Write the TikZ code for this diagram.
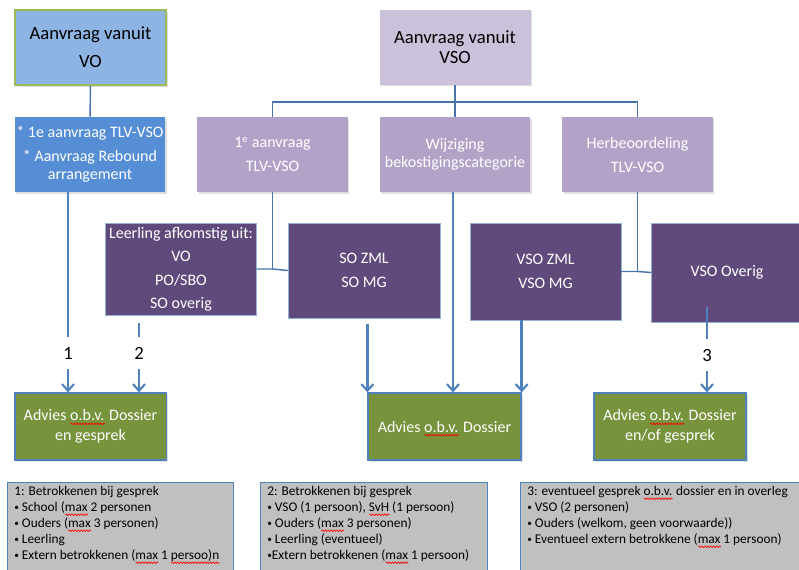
\documentclass[tikz,border=0pt]{standalone}
\usepackage{fontspec}
\setmainfont{Carlito}
\usetikzlibrary{arrows.meta}
\usetikzlibrary{shadows}
\usetikzlibrary{decorations.pathmorphing}
\definecolor{vofill}{HTML}{8EB4E3}
\definecolor{voline}{HTML}{9BBB59}
\definecolor{vsofill}{HTML}{CCC1DA}
\definecolor{blauw}{HTML}{558ED5}
\definecolor{lila}{HTML}{B3A2C7}
\definecolor{paars}{HTML}{604A7B}
\definecolor{groen}{HTML}{77933C}
\definecolor{lijn}{HTML}{4F81BD}
\definecolor{grijs}{HTML}{C0C0C0}
\newdimen\spelw
\newcommand\spel[1]{\settowidth\spelw{#1}\rlap{\smash{\tikz[baseline=0pt, x=1pt, y=1pt]
  \draw[red, line width=0.5pt, decorate, decoration={snake, amplitude=0.6pt, segment length=2.2pt}] (0,-2.4) -- (\spelw,-2.4);}}#1}
\newcommand\bul{\raisebox{0.6pt}{\scriptsize •}\ }
\tikzset{
    boxtop/.style = {rectangle, inner sep=0pt, align=center, minimum width=113.25pt, minimum height=56.25pt, text=black,
                     drop shadow={opacity=0.25, shadow xshift=1.2pt, shadow yshift=-1.2pt}},
    boxmid/.style = {rectangle, inner sep=0pt, align=center, minimum width=113pt, minimum height=56.25pt, fill=lila, text=white,
                     drop shadow={opacity=0.25, shadow xshift=1.2pt, shadow yshift=-1.2pt}},
    boxdark/.style = {rectangle, inner sep=0pt, align=center, minimum width=113pt, fill=paars, text=white, draw=lijn!60, line width=0.4pt,
                     font=\fontsize{12}{18}\selectfont},
    boxgreen/.style = {rectangle, inner sep=0pt, align=center, minimum width=113.5pt, minimum height=50.25pt, fill=groen, text=white,
                     draw=lijn, line width=1pt, font=\fontsize{12}{15}\selectfont,
                     drop shadow={opacity=0.25, shadow xshift=1.2pt, shadow yshift=-1.2pt}},
    notebox/.style = {rectangle, inner sep=0pt, fill=grijs, draw=lijn, line width=0.8pt, minimum height=75pt},
    notetext/.style = {inner sep=0pt, align=left, anchor=north west, text=black, font=\fontsize{10}{12}\selectfont},
    nummer/.style = {inner sep=0pt, minimum height=24pt, font=\fontsize{14}{14}\selectfont, text=black},
    verbind/.style = {-, line width=1.1pt, lijn!90!black},
    pijl/.style = {-{Straight Barb[length=5pt, width=9pt, line width=1.6pt]}, line width=2.2pt, lijn},
    streep/.style = {-, line width=2.2pt, lijn}
}
\begin{document}
\begin{tikzpicture}[x=0.75pt, y=-0.75pt]
\useasboundingbox (0,0) rectangle (799,569);
% bovenste rij
\node[boxtop, fill=vofill, draw=voline, line width=0.8pt, font=\fontsize{14}{21}\selectfont] at (90.5, 47.5) (vo) {Aanvraag vanuit\\VO};
\node[boxtop, fill=vsofill, font=\fontsize{14}{15}\selectfont] at (455, 47) (vso) {Aanvraag vanuit\\VSO};
% tweede rij
\node[boxmid, fill=blauw, font=\fontsize{12}{18}\selectfont] at (90, 154.5) (rebound) {* 1e aanvraag TLV-VSO\\* Aanvraag Rebound\\[-4.5pt]arrangement};
\node[boxmid, font=\fontsize{12}{18}\selectfont] at (272.5, 154.5) (eerste) {1\textsuperscript{e} aanvraag\\TLV-VSO};
\node[boxmid, font=\fontsize{12}{13.5}\selectfont] at (455, 154.5) (wijziging) {Wijziging\\bekostigingscategorie};
\node[boxmid, font=\fontsize{12}{18}\selectfont] at (637.5, 154.5) (herbeoordeling) {Herbeoordeling\\TLV-VSO};
% derde rij
\node[boxdark, minimum height=69pt, font=\fontsize{12}{17.6}\selectfont] at (181, 269) (leerling) {Leerling afkomstig uit:\\VO\\PO/SBO\\SO overig};
\node[boxdark, minimum width=114pt, minimum height=71.25pt] at (364, 270.5) (sozml) {SO ZML\\SO MG};
\node[boxdark, minimum height=72.75pt] at (545.5, 271.5) (vsozml) {VSO ZML\\VSO MG};
\node[boxdark, minimum height=74.25pt] at (727, 272.5) (vsooverig) {VSO Overig};
% advies
\node[boxgreen] at (90.5, 426.5) (advies1) {Advies \spel{o.b.v.} Dossier\\en gesprek};
\node[boxgreen, minimum width=114.75pt] at (444.5, 426.5) (advies2) {Advies \spel{o.b.v.} Dossier};
\node[boxgreen, minimum width=114pt] at (670, 426.5) (advies3) {Advies \spel{o.b.v.} Dossier\\en/of gesprek};
% nummers
\node[nummer] at (68, 353) (een) {1};
\node[nummer] at (139, 353) (twee) {2};
\node[nummer] at (707, 355) (drie) {3};
% toelichting
\node[notebox, minimum width=169.5pt, anchor=north west] at (7, 482) (noot1) {};
\node[notebox, minimum width=170.25pt, anchor=north west] at (260, 482) (noot2) {};
\node[notebox, minimum width=220pt, anchor=north west] at (520, 482) (noot3) {};
\node[notetext] at (14, 486) (tekst1) {1: Betrokkenen bij gesprek\\
  \bul School (\spel{max} 2 personen\\
  \bul Ouders (\spel{max} 3 personen)\\
  \bul Leerling\\
  \bul Extern betrokkenen (\spel{max} 1 \spel{persoo)n}};
\node[notetext] at (267, 486) (tekst2) {2: Betrokkenen bij gesprek\\
  \bul VSO (1 persoon), \spel{SvH} (1 persoon)\\
  \bul Ouders (\spel{max} 3 personen)\\
  \bul Leerling (eventueel)\\
  \raisebox{0.6pt}{\scriptsize •}Extern betrokkenen (\spel{max} 1 persoon)};
\node[notetext] at (527, 486) (tekst3) {3: eventueel gesprek \spel{o.b.v.} dossier en in overleg\\
  \bul VSO (2 personen)\\
  \bul Ouders (welkom, geen voorwaarde))\\
  \bul Eventueel extern betrokkene (\spel{max} 1 persoon)};
%
\draw[verbind] (vo) -- (rebound);
\draw[verbind] (vso.south) -- ++(0,17) coordinate (tak);
\draw[verbind] (eerste.north) |- (tak) -| (herbeoordeling.north);
\draw[verbind] (tak) -- (wijziging.north);
\draw[verbind] (eerste.south) -- (eerste.south |- leerling.east) coordinate (knik1);
\draw[verbind] (leerling.east) -- (knik1) -- (sozml.west);
\draw[verbind] (herbeoordeling.south) -- (herbeoordeling.south |- vsozml.east) coordinate (knik2);
\draw[verbind] (vsozml.east) -- (knik2) -- (vsooverig.west);
%
\draw[streep] (rebound.south -| een) -- (een.north);
\draw[pijl] (een.south) -- (een |- advies1.north);
\draw[streep, shorten <=6pt] (leerling.south -| twee) -- (twee.north);
\draw[pijl] (twee.south) -- (twee |- advies1.north);
\coordinate (start3) at (707, 307);
\draw[streep] (start3) -- (drie.north);
\draw[pijl] (drie.south) -- (drie |- advies3.north);
\draw[pijl] (wijziging.south -| 453,0) -- (advies2.north -| 453,0);
\draw[pijl, shorten <=4pt] (sozml.south -| advies2.west) -- (advies2.north west);
\draw[pijl] (vsozml.south -| advies2.east) -- (advies2.north east);
\end{tikzpicture}
\end{document}
